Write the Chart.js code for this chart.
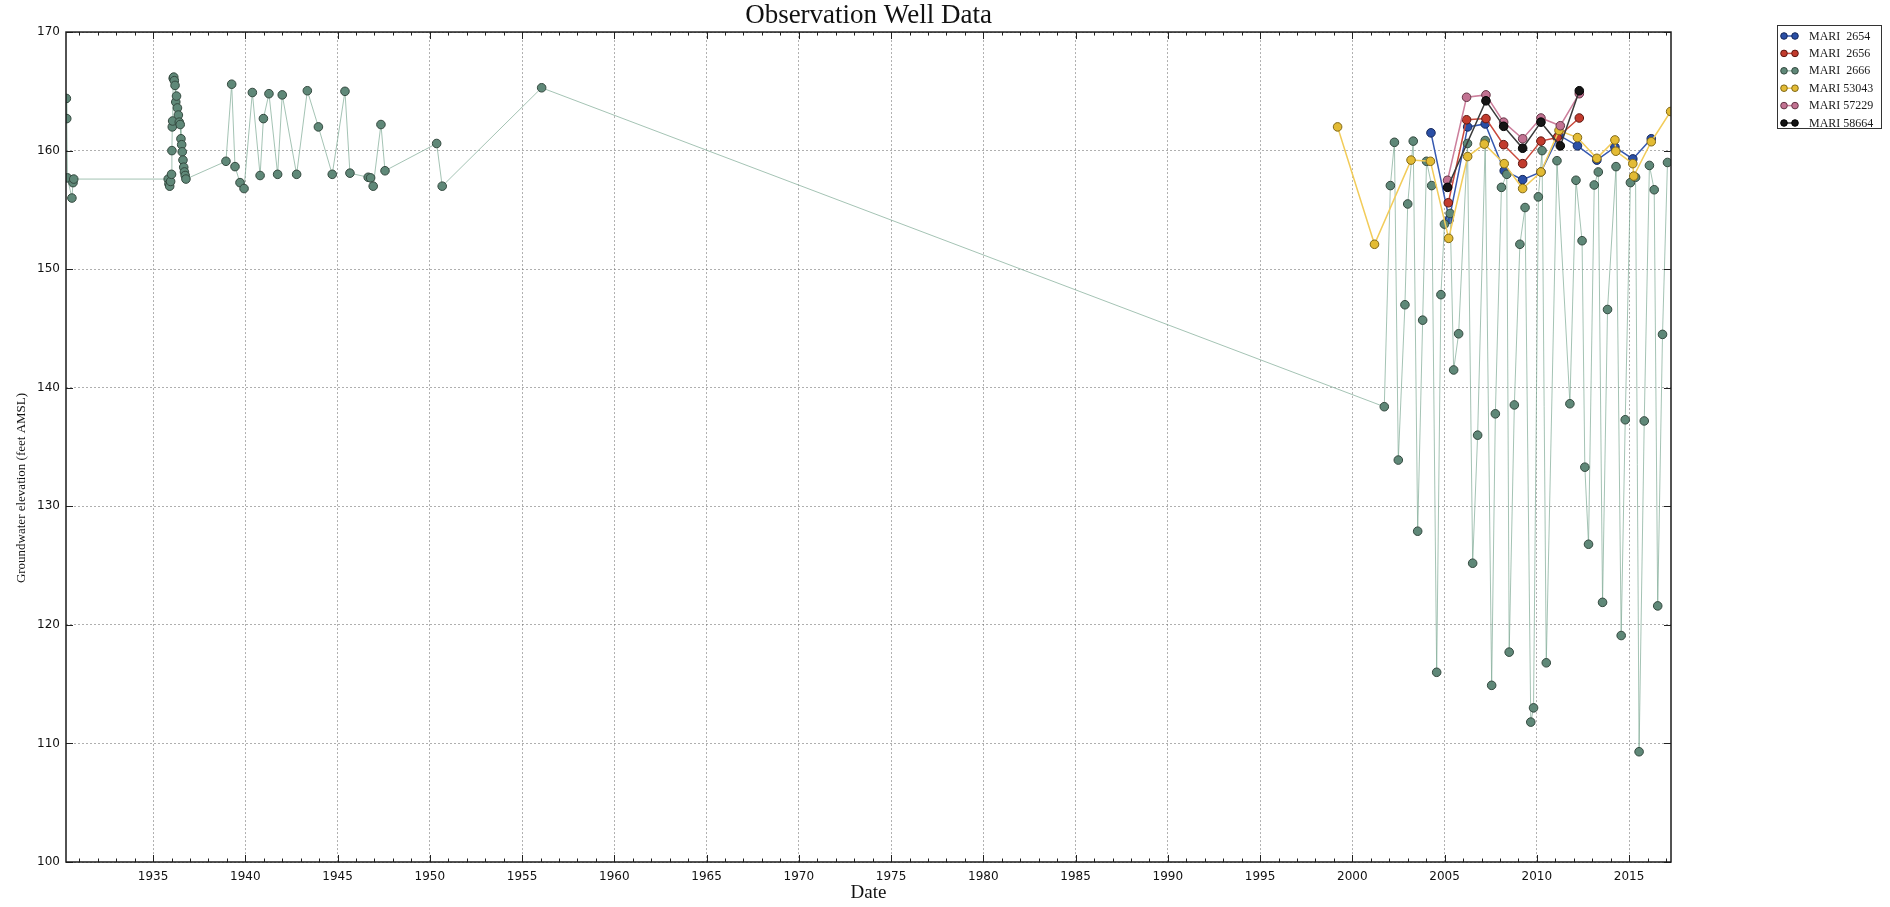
<!DOCTYPE html>
<html>
<head>
<meta charset="utf-8">
<script src="https://cdn.jsdelivr.net/npm/chart.js@4/dist/chart.umd.min.js"></script>
<style>
  html, body { margin: 0; padding: 0; background: #ffffff; }
  canvas { display: block; }
</style>
</head>
<body>
<canvas id="wellChart" width="1890" height="907"></canvas>
<script>
// Axis ticks
const xTickYears = [1935, 1940, 1945, 1950, 1955, 1960, 1965, 1970, 1975, 1980, 1985, 1990, 1995, 2000, 2005, 2010, 2015];
const yTickLevels = [100, 110, 120, 130, 140, 150, 160, 170];

// MARI 2654
const mari2654Years = [2004.26, 2005.25, 2006.25, 2007.20, 2008.23, 2009.23, 2010.22, 2011.20, 2012.20, 2013.25, 2014.23, 2015.20, 2016.20];
const mari2654Levels = [161.5, 154.2, 162.0, 162.25, 158.3, 157.55, 158.2, 161.3, 160.4, 159.2, 160.3, 159.3, 161.0];

// MARI 2656
const mari2656Years = [2005.20, 2006.19, 2007.24, 2008.20, 2009.23, 2010.22, 2011.10, 2012.30];
const mari2656Levels = [155.6, 162.6, 162.7, 160.5, 158.9, 160.8, 161.1, 162.75];

// MARI 2666
const mari2666Years = [
  1930.30, 1930.32, 1930.36, 1930.60, 1930.66, 1930.70,
  1935.82, 1935.86, 1935.90, 1935.95, 1936.00, 1936.02, 1936.04, 1936.06, 1936.09, 1936.12,
  1936.15, 1936.19, 1936.23, 1936.27, 1936.32, 1936.37, 1936.42, 1936.47, 1936.51, 1936.55,
  1936.58, 1936.62, 1936.66, 1936.70, 1936.74, 1936.78,
  1938.95, 1939.26, 1939.44, 1939.71, 1939.93, 1940.38, 1940.80, 1940.98, 1941.28, 1941.75,
  1942.00, 1942.78, 1943.36, 1943.96, 1944.71, 1945.40, 1945.67, 1946.66, 1946.79, 1946.93,
  1947.35, 1947.57, 1950.37, 1950.67, 1956.06,
  2001.73, 2002.06, 2002.28, 2002.49, 2002.85, 2003.00, 2003.30, 2003.54, 2003.81, 2004.02,
  2004.30, 2004.57, 2004.80, 2004.99, 2005.30, 2005.49, 2005.76, 2006.24, 2006.52, 2006.79,
  2007.20, 2007.55, 2007.75, 2008.08, 2008.37, 2008.50, 2008.78, 2009.08, 2009.36, 2009.67,
  2009.82, 2010.08, 2010.28, 2010.51, 2011.09, 2011.79, 2012.12, 2012.45, 2012.60, 2012.80,
  2013.11, 2013.33, 2013.56, 2013.83, 2014.29, 2014.57, 2014.79, 2015.07, 2015.35, 2015.54,
  2015.82, 2016.10, 2016.36, 2016.55, 2016.81, 2017.08
];
const mari2666Levels = [
  164.4, 162.7, 157.7, 156.0, 157.3, 157.6,
  157.6, 157.2, 157.0, 157.4, 158.0, 160.0, 162.0, 162.5, 166.1, 166.2,
  165.9, 165.5, 164.1, 164.6, 163.6, 163.0, 162.4, 162.2, 161.0, 160.5,
  159.9, 159.2, 158.6, 158.2, 157.9, 157.6,
  159.1, 165.6, 158.65, 157.3, 156.8, 164.9, 157.9, 162.7, 164.8, 158.0,
  164.7, 158.0, 165.05, 162.0, 158.0, 165.0, 158.1, 157.75, 157.7, 157.0,
  162.2, 158.3, 160.6, 157.0, 165.3,
  138.4, 157.05, 160.7, 133.9, 147.0, 155.5, 160.8, 127.9, 145.7, 159.1,
  157.05, 116.0, 147.85, 153.8, 154.7, 141.5, 144.55, 160.6, 125.2, 136.0,
  160.85, 114.9, 137.8, 156.9, 158.0, 117.7, 138.55, 152.1, 155.2, 111.8,
  113.0, 156.1, 160.0, 116.8, 159.15, 138.65, 157.5, 152.4, 133.3, 126.8,
  157.1, 158.2, 121.9, 146.6, 158.65, 119.1, 137.3, 157.3, 157.75, 109.3,
  137.2, 158.75, 156.7, 121.6, 144.5, 159.0
];

// MARI 53043
const mari53043Years = [1999.20, 2001.20, 2003.18, 2004.23, 2005.22, 2006.25, 2007.15, 2008.23, 2009.23, 2010.22, 2011.20, 2012.20, 2013.25, 2014.23, 2014.28, 2015.20, 2015.25, 2016.20, 2017.25];
const mari53043Levels = [162.0, 152.1, 159.2, 159.1, 152.6, 159.5, 160.55, 158.9, 156.8, 158.2, 161.7, 161.1, 159.35, 160.9, 159.95, 158.9, 157.85, 160.75, 163.3];

// MARI 57229
const mari57229Years = [2005.16, 2006.19, 2007.24, 2008.20, 2009.23, 2010.22, 2011.27, 2012.30];
const mari57229Levels = [157.5, 164.5, 164.7, 162.4, 161.0, 162.75, 162.1, 164.8];

// MARI 58664
const mari58664Years = [2005.16, 2007.24, 2008.20, 2009.23, 2010.22, 2011.27, 2012.30];
const mari58664Levels = [156.9, 164.2, 162.05, 160.2, 162.4, 160.4, 165.05];

// Series styles
const wells = [
    { label: 'MARI  2654', years: mari2654Years, levels: mari2654Levels, line: '#3558b0', fill: '#2a4fa6', edge: '#16285a', width: 1.5 },
    { label: 'MARI  2656', years: mari2656Years, levels: mari2656Levels, line: '#c9493c', fill: '#c23b2d', edge: '#5e1812', width: 1.5 },
    { label: 'MARI  2666', years: mari2666Years, levels: mari2666Levels, line: 'rgba(125,170,148,0.7)', fill: '#5f8878', edge: '#34493f', width: 1 },
    { label: 'MARI 53043', years: mari53043Years, levels: mari53043Levels, line: '#f2cc5a', fill: '#e3bb34', edge: '#806818', width: 1.5 },
    { label: 'MARI 57229', years: mari57229Years, levels: mari57229Levels, line: '#cc7f9c', fill: '#c27292', edge: '#643646', width: 1.5 },
    { label: 'MARI 58664', years: mari58664Years, levels: mari58664Levels, line: '#3a3a3a', fill: '#151515', edge: '#000000', width: 1.5 }
];

const SERIF = '"Liberation Serif", "DejaVu Serif", serif';
const PLOT_LEFT = 66;
const PLOT_RIGHT = 1671;
const X_MIN = 1930.28;
const X_MAX = 2017.27;

// Frame, inward ticks, y label and legend box drawn like the matplotlib original
const framePlugin = {
    id: 'framePlugin',
    afterDraw(chart) {
        const ctx = chart.ctx;
        const area = chart.chartArea;
        const xs = chart.scales.x;
        const ys = chart.scales.y;
        ctx.save();
        ctx.strokeStyle = '#222';
        ctx.lineWidth = 1;
        // minor and major ticks along x
        for (let yr = Math.ceil(X_MIN); yr <= X_MAX; yr++) {
            const px = Math.round(xs.getPixelForValue(yr)) + 0.5;
            const len = yr % 5 === 0 ? 7 : 3.5;
            ctx.beginPath();
            ctx.moveTo(px, area.bottom);
            ctx.lineTo(px, area.bottom - len);
            ctx.moveTo(px, area.top);
            ctx.lineTo(px, area.top + len);
            ctx.stroke();
        }
        yTickLevels.forEach(v => {
            const py = Math.round(ys.getPixelForValue(v)) + 0.5;
            ctx.beginPath();
            ctx.moveTo(area.left, py);
            ctx.lineTo(area.left + 7, py);
            ctx.moveTo(area.right, py);
            ctx.lineTo(area.right - 7, py);
            ctx.stroke();
        });
        ctx.lineWidth = 1.5;
        ctx.strokeStyle = '#1a1a1a';
        ctx.strokeRect(area.left, area.top, area.right - area.left, area.bottom - area.top);

        // y axis label
        ctx.save();
        ctx.translate(22, 488);
        ctx.rotate(-Math.PI / 2);
        ctx.fillStyle = '#111';
        ctx.font = '13px ' + SERIF;
        ctx.textAlign = 'center';
        ctx.textBaseline = 'middle';
        ctx.fillText('Groundwater elevation (feet AMSL)', 0, 0);
        ctx.restore();

        // legend
        const boxX = 1777, boxY = 25, boxW = 104, boxH = 103;
        ctx.lineWidth = 1;
        ctx.strokeStyle = '#333';
        ctx.fillStyle = '#fff';
        ctx.fillRect(boxX, boxY, boxW, boxH);
        ctx.strokeRect(boxX + 0.5, boxY + 0.5, boxW, boxH);
        ctx.font = '12px ' + SERIF;
        ctx.textBaseline = 'middle';
        ctx.textAlign = 'left';
        chart.data.datasets.forEach((ds, i) => {
            const rowY = boxY + 11 + i * 17.4;
            ctx.strokeStyle = ds.borderColor;
            ctx.lineWidth = 1.5;
            ctx.beginPath();
            ctx.moveTo(boxX + 7, rowY);
            ctx.lineTo(boxX + 18, rowY);
            ctx.stroke();
            [boxX + 7, boxX + 18].forEach(cx => {
                ctx.beginPath();
                ctx.arc(cx, rowY, 3.3, 0, Math.PI * 2);
                ctx.fillStyle = ds.pointBackgroundColor;
                ctx.fill();
                ctx.strokeStyle = ds.pointBorderColor;
                ctx.lineWidth = 1;
                ctx.stroke();
            });
            ctx.fillStyle = '#1a1a1a';
            ctx.fillText(ds.label, boxX + 32, rowY + 0.5);
        });
        ctx.restore();
    }
};

const datasets = wells.map((w, i) => ({
    label: w.label,
    data: w.years.map((yr, k) => ({ x: yr, y: w.levels[k] })),
    borderColor: w.line,
    borderWidth: w.width,
    backgroundColor: w.fill,
    pointBackgroundColor: w.fill,
    pointBorderColor: w.edge,
    pointBorderWidth: 1,
    pointRadius: 4.3,
    tension: 0,
    fill: false,
    order: wells.length - i
}));

const gridColor = 'rgba(110,110,110,0.55)';

const ctx = document.getElementById('wellChart').getContext('2d');
new Chart(ctx, {
    type: 'line',
    data: { datasets: datasets },
    options: {
        responsive: false,
        animation: false,
        layout: { padding: { left: 0, right: 1890 - PLOT_RIGHT, top: 0, bottom: 0 } },
        plugins: {
            legend: { display: false },
            tooltip: { enabled: false },
            title: {
                display: true,
                text: 'Observation Well Data',
                color: '#111',
                fullSize: false,
                font: { family: SERIF, size: 27, weight: 'normal', lineHeight: 1.15 },
                padding: { top: 0.5, bottom: 0.5 }
            }
        },
        scales: {
            x: {
                type: 'linear',
                min: X_MIN,
                max: X_MAX,
                afterFit: s => { s.height = 45; },
                afterBuildTicks: axis => { axis.ticks = xTickYears.map(v => ({ value: v })); },
                grid: { color: gridColor, lineWidth: 1, drawTicks: false },
                border: { display: false, dash: [2, 2] },
                ticks: {
                    color: '#111',
                    padding: 8,
                    maxRotation: 0,
                    autoSkip: false,
                    font: { family: '"DejaVu Sans", sans-serif', size: 12 },
                    callback: v => String(v)
                },
                title: {
                    display: true,
                    text: 'Date',
                    color: '#111',
                    font: { family: SERIF, size: 19 },
                    padding: { top: 0, bottom: 3 }
                }
            },
            y: {
                min: 100,
                max: 170,
                afterFit: s => { s.width = PLOT_LEFT; },
                afterBuildTicks: axis => { axis.ticks = yTickLevels.map(v => ({ value: v })); },
                grid: { color: gridColor, lineWidth: 1, drawTicks: false },
                border: { display: false, dash: [2, 2] },
                ticks: {
                    color: '#111',
                    padding: 6,
                    font: { family: '"DejaVu Sans", sans-serif', size: 12 }
                }
            }
        }
    },
    plugins: [framePlugin]
});
</script>
</body>
</html>
